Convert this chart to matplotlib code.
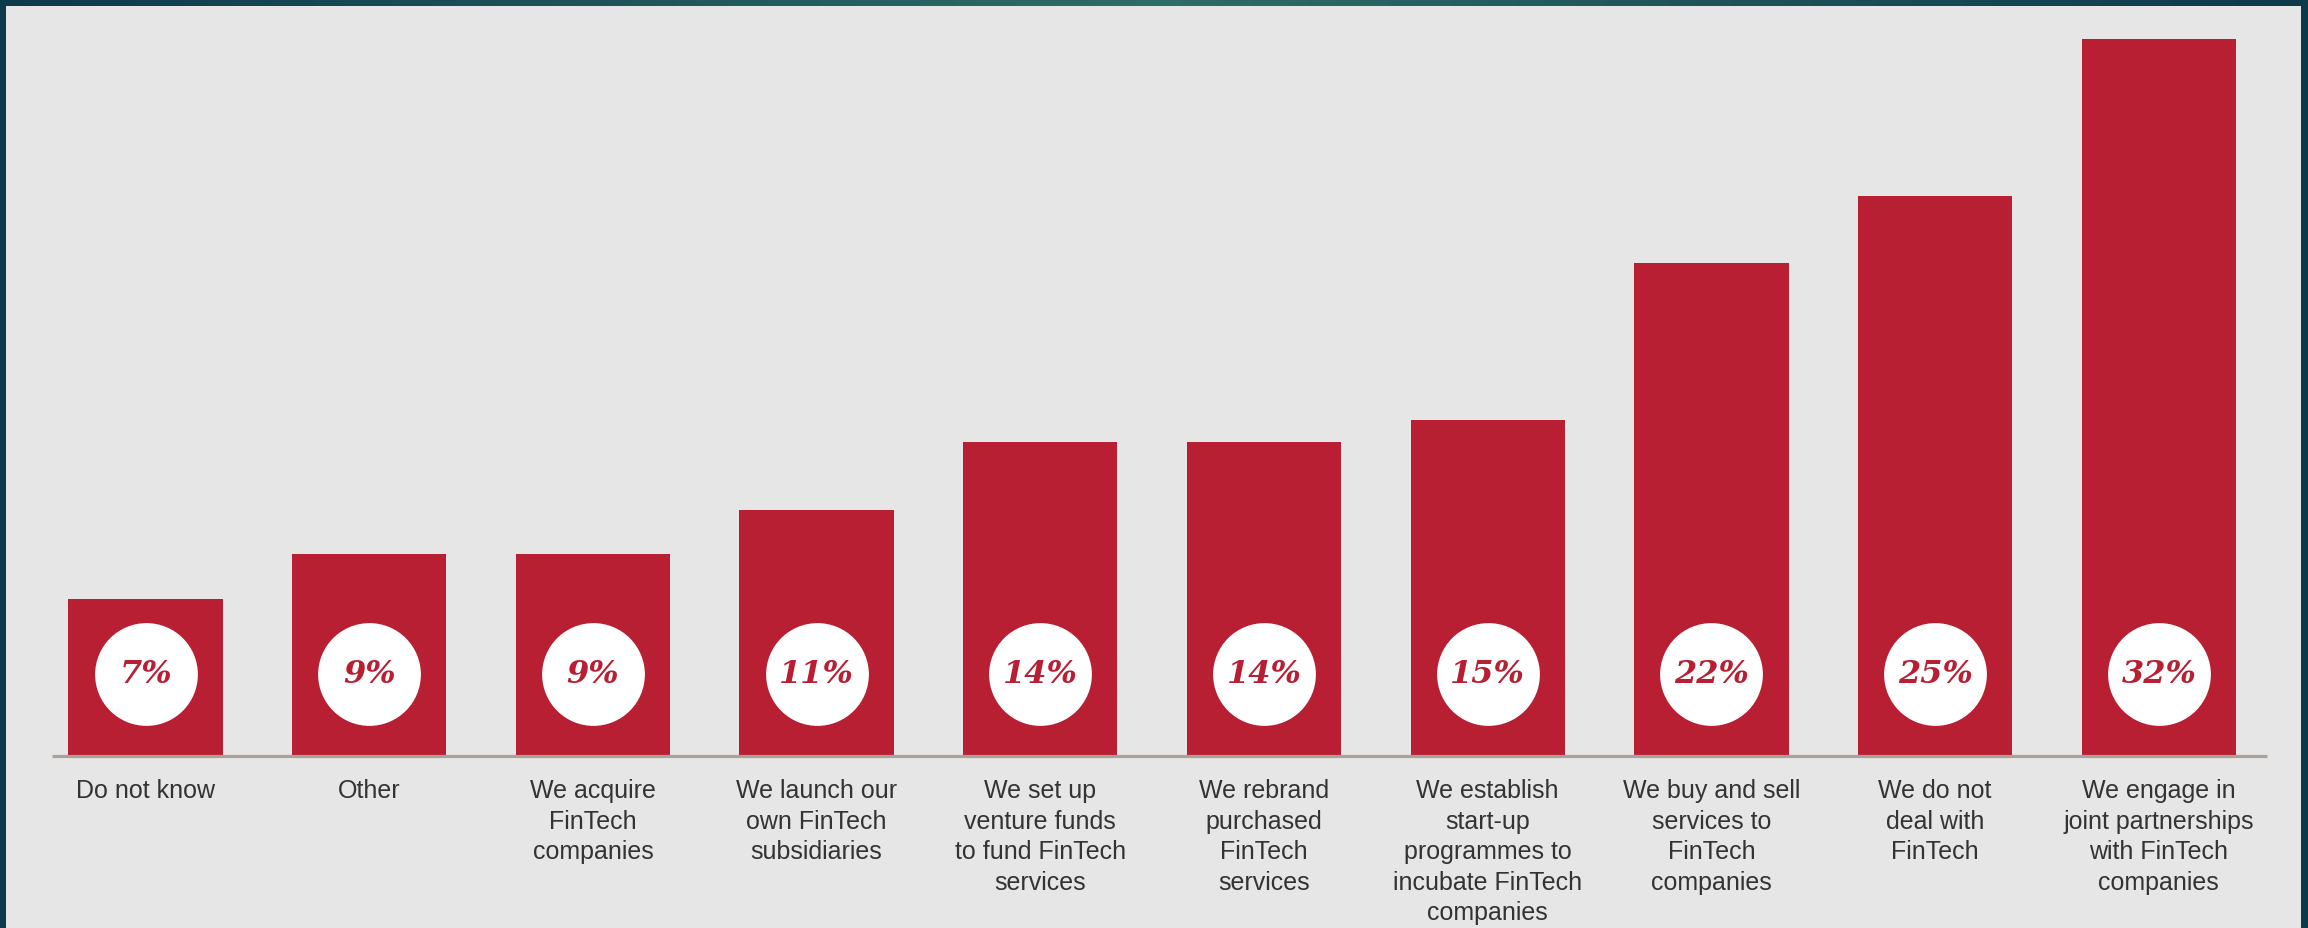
import numpy as np
import matplotlib
matplotlib.use('Agg')
import matplotlib.pyplot as plt

# survey answers, left to right
labels = [
    'Do not know',
    'Other',
    'We acquire\nFinTech\ncompanies',
    'We launch our\nown FinTech\nsubsidiaries',
    'We set up\nventure funds\nto fund FinTech\nservices',
    'We rebrand\npurchased\nFinTech\nservices',
    'We establish\nstart-up\nprogrammes to\nincubate FinTech\ncompanies',
    'We buy and sell\nservices to\nFinTech\ncompanies',
    'We do not\ndeal with\nFinTech',
    'We engage in\njoint partnerships\nwith FinTech\ncompanies',
]
values = [7, 9, 9, 11, 14, 14, 15, 22, 25, 32]

RED = '#b81f33'
BG = '#e6e6e6'
W, H = 2308, 929

fig = plt.figure(figsize=(W / 100, H / 100), dpi=100)

# teal frame behind the chart (small gradient)
bg_ax = fig.add_axes([0, 0, 1, 1])
grad = np.linspace(0, 1, 256)[None, :]
cmap = matplotlib.colors.LinearSegmentedColormap.from_list(
    'frame', ['#0c3a4a', '#2f6d68', '#0c3a4a'])
bg_ax.imshow(grad, aspect='auto', cmap=cmap, extent=[0, 1, 0, 1])
bg_ax.set_axis_off()

ax = fig.add_axes([6 / W, 0, (2301 - 6) / W, (H - 7) / H])
ax.set_facecolor(BG)

x = np.arange(len(values))
ax.bar(x, values, width=0.69, color=RED, zorder=2)

# grey base line
ax.plot([-0.418, 9.484], [0, 0], color='#a9a29b', lw=2.3, zorder=3,
        solid_capstyle='butt')

# white discs with the percentages
circle_y = np.full(len(values), 3.66)
ax.scatter(x, circle_y, s=74 ** 2, color='white', zorder=4, linewidths=0)
for xi, v in zip(x, values):
    ax.text(xi, 3.66, f'{v}%', ha='center', va='center', color=RED,
            fontsize=23, fontweight='bold', fontstyle='italic',
            family='DejaVu Serif', zorder=5)

for xi, lab in zip(x, labels):
    ax.text(xi, -1.0, lab, ha='center', va='top', color='#333333',
            fontsize=18, family='Liberation Sans', linespacing=1.34)

ax.set_xlim(-0.6236, 9.6356)
ax.set_ylim(-7.68, 33.48)
ax.set_xticks([])
ax.set_yticks([])
for s in ax.spines.values():
    s.set_visible(False)

fig.savefig('out.png', dpi=100, facecolor=fig.get_facecolor())
